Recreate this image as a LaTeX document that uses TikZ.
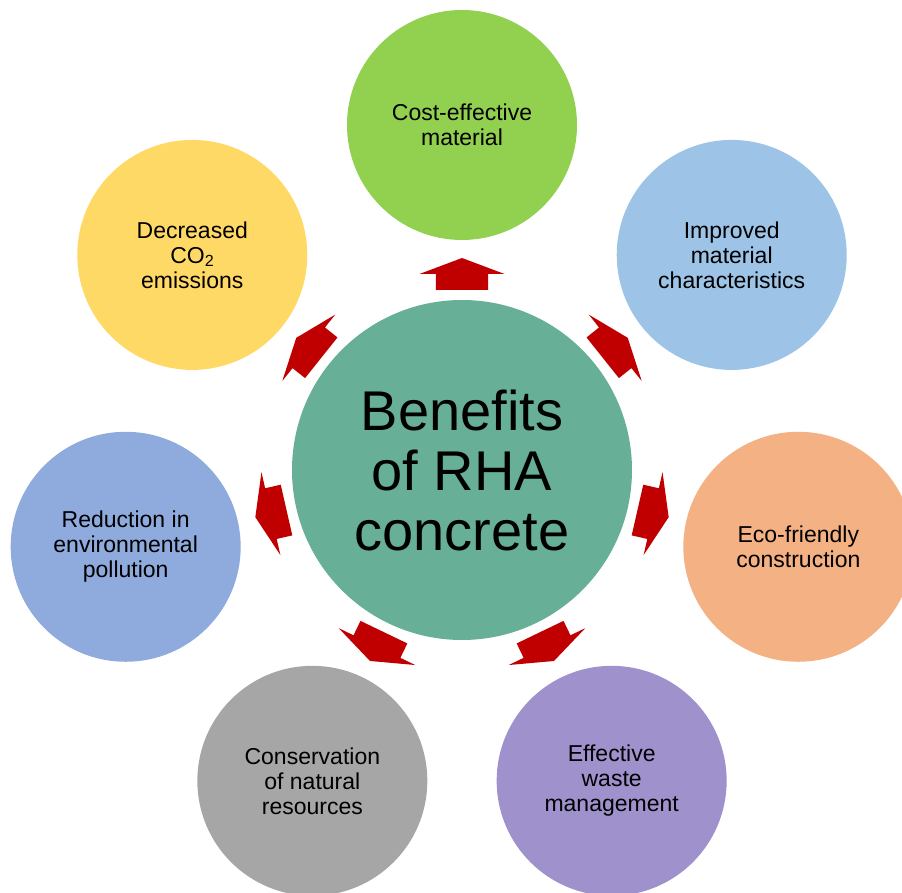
\documentclass[tikz,border=0pt]{standalone}
\usepackage{fontspec}
\setmainfont{Liberation Sans}

\definecolor{rhateal}{HTML}{67AF97}
\definecolor{costgreen}{HTML}{92D050}
\definecolor{matblue}{HTML}{9DC3E6}
\definecolor{ecoorange}{HTML}{F4B183}
\definecolor{wastepurple}{HTML}{9F91CC}
\definecolor{consgray}{HTML}{A6A6A6}
\definecolor{pollblue}{HTML}{8FAADC}
\definecolor{coyellow}{HTML}{FFD966}
\definecolor{arrowred}{HTML}{C00000}

\begin{document}
\begin{tikzpicture}[x=1pt,y=1pt]
\tikzstyle{every node}+=[inner sep=0pt]
\tikzstyle{benefit}=[circle, minimum size=230, align=center, font=\fontsize{23}{25}\selectfont]
\useasboundingbox (-462,-423) rectangle (440,470);
% hub
\node [circle, fill=rhateal, minimum size=340, align=center, font=\fontsize{56}{60}\selectfont] (rha) at (0,0) {Benefits\\of RHA\\concrete};
% benefits, 360/7 apart
\node [benefit, fill=costgreen] (cost) at (90:345) {Cost-effective\\material};
\node [benefit, fill=matblue] (prop) at (38.57:345) {Improved\\material\\characteristics};
\node [benefit, fill=ecoorange] (eco) at (-12.86:345) {Eco-friendly\\construction};
\node [benefit, fill=wastepurple] (waste) at (-64.29:345) {Effective\\waste\\management};
\node [benefit, fill=consgray] (cons) at (-115.71:345) {Conservation\\of natural\\resources};
\node [benefit, fill=pollblue] (poll) at (-167.14:345) {Reduction in\\environmental\\pollution};
\node [benefit, fill=coyellow] (co2) at (141.43:345) {Decreased\\CO\textsubscript{2}\\emissions};
% block arrows
\foreach \k in {0,...,6}
{
\pgfmathsetmacro{\a}{90-\k*360/7}
\fill [arrowred, rotate=\a] (180,-26) -- (196,-26) -- (196,-42.5) -- (212,0) -- (196,42.5) -- (196,26) -- (180,26) -- cycle;
}
\end{tikzpicture}
\end{document}
